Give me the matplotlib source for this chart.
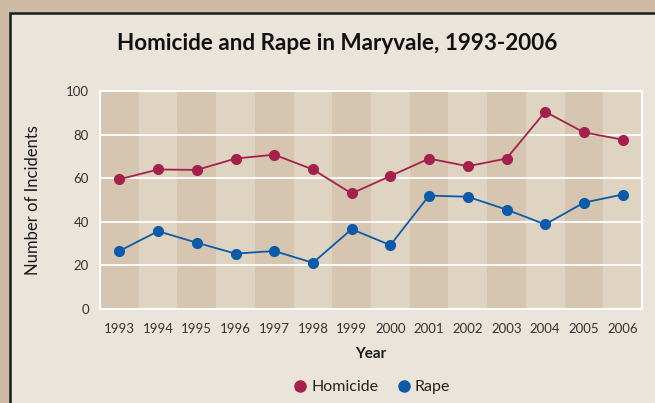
import matplotlib
matplotlib.use("Agg")
import matplotlib.pyplot as plt
from matplotlib.patches import Rectangle
from matplotlib.lines import Line2D

years = ["1993", "1994", "1995", "1996", "1997", "1998", "1999",
         "2000", "2001", "2002", "2003", "2004", "2005", "2006"]
homicide = [59.5, 64, 63.8, 69, 70.8, 64, 53, 61, 69, 65.5, 69, 90.5, 81, 77.7]
rape = [26.6, 35.7, 30.4, 25.4, 26.6, 21.2, 36.6, 29.3, 52, 51.5, 45.6, 38.8, 48.8, 52.5]
yticks = [0, 20, 40, 60, 80, 100]

plt.rcParams['font.family'] = ['Lato', 'DejaVu Sans']

W, H = 655, 403
fig = plt.figure(figsize=(W / 100, H / 100), dpi=100)
fig.patch.set_facecolor('#cdbba4')

# inner panel
panel = Rectangle((10 / W, -0.05), 1.0, 1 - 12.5 / H + 0.05, transform=fig.transFigure,
                  facecolor='#ebe4da', edgecolor='#1a1a1a', linewidth=1.8, zorder=-10)
fig.patches.append(panel)

ax = fig.add_axes([100 / W, 1 - 309 / H, (642 - 100) / W, (309 - 91) / H])
ax.set_zorder(5)
ax.set_facecolor('#dfd3c2')
x = list(range(len(years)))
for i in x:
    c = '#d5c5b1' if i % 2 == 0 else '#dfd3c2'
    ax.axvspan(i - 0.5, i + 0.5, color=c, lw=0, zorder=0)
for yv in yticks[1:-1]:
    ax.axhline(yv, color='white', lw=1.3, zorder=1)

ax.plot(x, homicide, color='#a5214b', lw=1.3, marker='o', ms=7, zorder=3)
ax.plot(x, rape, color='#0b5ba8', lw=1.3, marker='o', ms=7, zorder=3)

ax.set_xlim(-0.5, len(years) - 0.5)
ax.set_ylim(0, 100)
ax.set_xticks(x)
ax.set_xticklabels(years)
ax.set_yticks(yticks)
ax.tick_params(length=0, labelsize=9.5, colors='#333333', pad=10)
ax.tick_params(axis='y', pad=8)
for s in ax.spines.values():
    s.set_color('white')
    s.set_linewidth(1.5)

ax.set_xlabel('Year', fontsize=11, fontweight='bold', color='#1a1a1a', labelpad=9)
ax.set_ylabel('Number of Incidents', fontsize=12, color='#1a1a1a', labelpad=18)

fig.text(337 / W, 1 - 43 / H, 'Homicide and Rape in Maryvale, 1993-2006',
         ha='center', va='center', fontsize=16.2, fontweight='bold', color='#111111')

handles = [Line2D([], [], ls='none', marker='o', ms=8, color='#a5214b'),
           Line2D([], [], ls='none', marker='o', ms=8, color='#0b5ba8')]
fig.legend(handles, ['Homicide', 'Rape'], loc='center', bbox_to_anchor=(372 / W, 1 - 387 / H),
           ncol=2, frameon=False, fontsize=11.5, handlelength=0.8, handletextpad=0.3,
           columnspacing=1.2, labelcolor='#222222')

fig.savefig('out.png', dpi=100, facecolor=fig.get_facecolor())
